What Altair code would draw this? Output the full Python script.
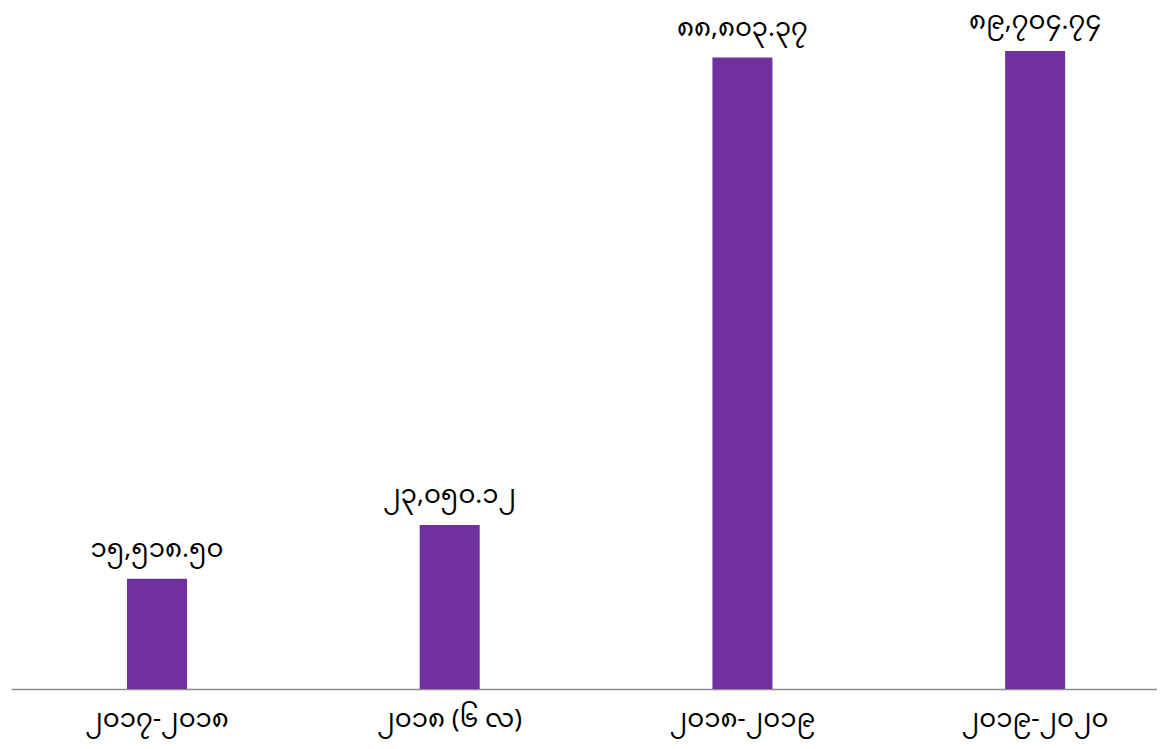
import altair as alt
import pandas as pd

categories = ["၂၀၁၇-၂၀၁၈", "၂၀၁၈ (၆ လ)", "၂၀၁၈-၂၀၁၉", "၂၀၁၉-၂၀၂၀"]
values = [15518.50, 23050.12, 88803.37, 89704.74]
labels = ["၁၅,၅၁၈.၅၀", "၂၃,၀၅၀.၁၂", "၈၈,၈၀၃.၃၇", "၈၉,၇၀၄.၇၄"]

df = pd.DataFrame({"cat": categories, "val": values, "lab": labels})

FONT = "Noto Sans Myanmar, Padauk, Myanmar Text, sans-serif"

base = alt.Chart(df).encode(
    x=alt.X("cat:N", sort=categories, title=None,
            scale=alt.Scale(paddingInner=0.795, paddingOuter=0.355, align=0.558),
            axis=alt.Axis(labelAngle=0, ticks=False, domainColor="#8c8c8c",
                          labelFontSize=26, labelFont=FONT, labelColor="#000000",
                          labelPadding=16, domainWidth=1.3)),
    y=alt.Y("val:Q", scale=alt.Scale(domain=[0, 90000]), axis=None),
)

bars = base.mark_bar(color="#7030A0")
text = base.mark_text(dy=-30, fontSize=26, font=FONT, color="#000000").encode(text="lab:N")

chart = (bars + text).properties(
    width=1146, height=640,
    padding={"left": 3, "top": 0, "right": 0, "bottom": 10},
    background="white",
).configure_view(stroke=None)

chart.save("out.html", embed_options={"renderer": "svg", "actions": False})
